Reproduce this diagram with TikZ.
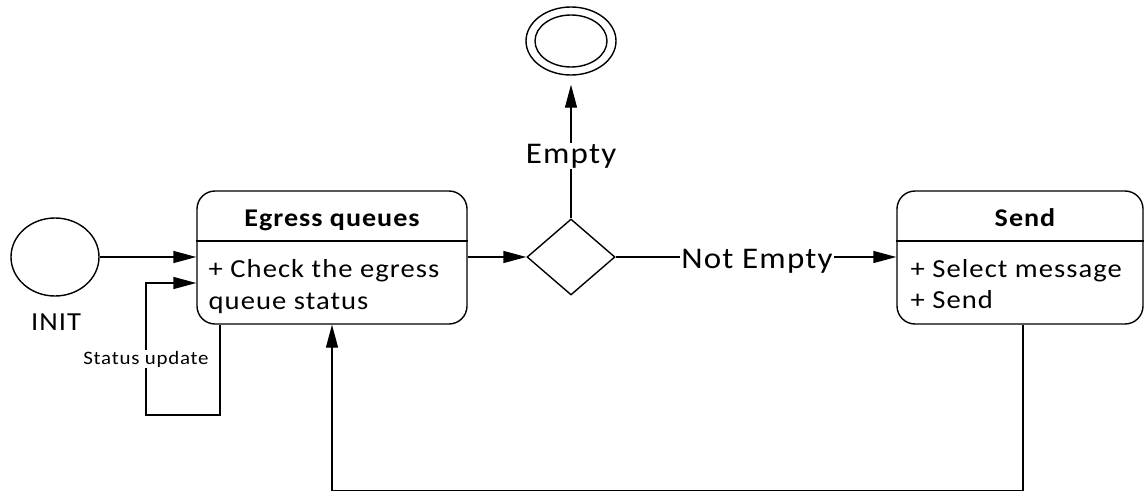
\documentclass[tikz,border=0pt]{standalone}
\usepackage{fontspec}
\setmainfont{Carlito}[FakeStretch=1.1,LetterSpace=4]
\usetikzlibrary{arrows.meta,shapes.geometric,calc}
\begin{document}
\begin{tikzpicture}[x=1pt,y=-1pt,
  every path/.style={line width=1.4pt},
  flow/.style={draw,-{Triangle[length=23pt,width=12pt]}},
  statebox/.style={draw,rounded corners=18pt,minimum width=#1,minimum height=133pt,inner sep=0pt},
  roundnode/.style={draw,ellipse,inner sep=0pt},
  decision/.style={draw,diamond,minimum width=88pt,minimum height=76pt,inner sep=0pt,aspect=1.16},
  title/.style={font=\fontsize{25.5}{28}\selectfont\bfseries,anchor=base,inner sep=0pt},
  body/.style={font=\fontsize{26}{30}\selectfont,anchor=base west,inner sep=0pt},
  lbl/.style={font=\fontsize{30}{34}\selectfont,fill=white,inner sep=1pt,anchor=base},
  small/.style={font=\fontsize{19}{22}\selectfont,fill=white,inner sep=1pt,anchor=base}]
\useasboundingbox (0,0) rectangle (1146,490);

% start state
\node[roundnode,minimum width=88pt,minimum height=78pt] (init) at (55,257) {};
\node[font=\fontsize{26}{30}\selectfont,anchor=base,inner sep=0pt] (initlbl) at (56,330) {INIT};

% egress queues state
\node[statebox=270pt] (eq) at (332,257.5) {};
\draw (eq.west |- 0,241) -- (eq.east |- 0,241);
\node[title] (eqtitle) at (332,226) {Egress queues};
\node[body] (eqline1) at (208,277) {+ Check the egress};
\node[body] (eqline2) at (208,309) {queue status};

% decision
\node[decision] (dec) at (571,257) {};

% final state
\node[roundnode,minimum width=90pt,minimum height=68pt] (final) at (571,41) {};
\node[roundnode,minimum width=72pt,minimum height=52pt] (finalin) at (571,41) {};

% send state
\node[statebox=246pt] (send) at (1020,257.5) {};
\draw (send.west |- 0,241) -- (send.east |- 0,241);
\node[title] (sendtitle) at (1025,226) {Send};
\node[body] (sendline1) at (910,277) {+ Select message};
\node[body] (sendline2) at (910,308) {+ Send};

% transitions
\draw[flow] (init.east) -- (eq.west |- init.east);
\coordinate (loopa) at (220,415);
\coordinate (loopb) at (146,415);
\coordinate (loopc) at (146,283);
\draw[flow] (eq.south -| loopa) -- (loopa) -- (loopb) -- (loopc) -- (eq.west |- loopc);
\node[small] (statuslbl) at (146,364) {Status update};

\draw[flow] (eq.east |- dec.west) -- (dec.west);
\draw[flow] (dec.north) -- ($(final.south)+(0,9)$);
\node[lbl] (emptylbl) at (571,163) {Empty};

\draw[flow] (dec.east) -- (send.west |- dec.east);
\node[lbl] (notemptylbl) at (757,268) {Not Empty};

\coordinate (reta) at (1023,491);
\coordinate (retb) at (332,491);
\draw[flow] (send.south -| reta) -- (reta) -- (retb) -- (eq.south -| retb);
\end{tikzpicture}
\end{document}
